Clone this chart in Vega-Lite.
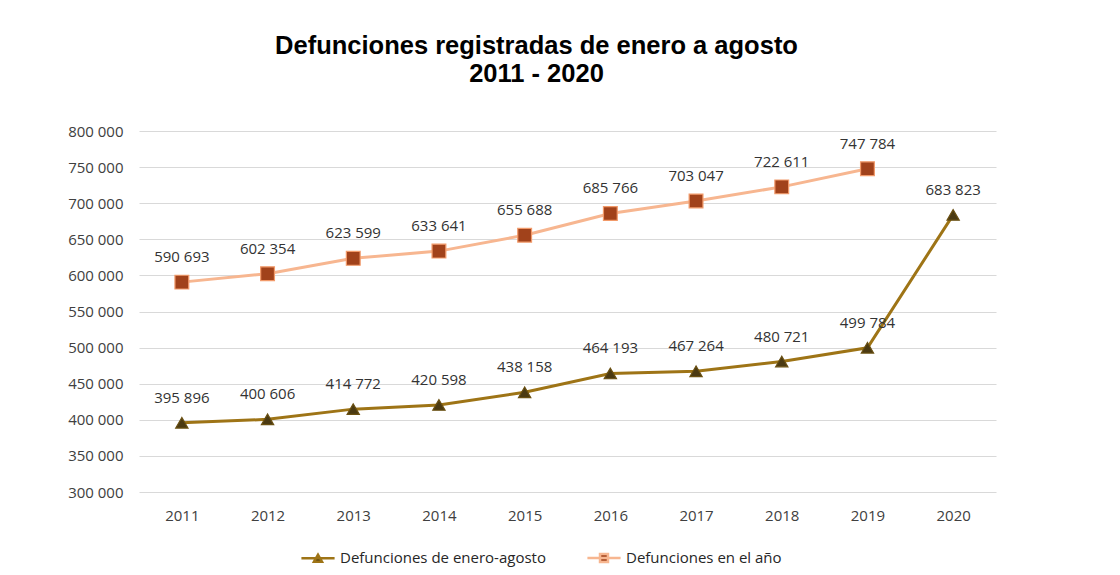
{
  "$schema": "https://vega.github.io/schema/vega-lite/v6.json",
  "autosize": {"type": "none"},
  "width": 857,
  "height": 361,
  "padding": {"left": 139, "top": 131, "right": 124, "bottom": 83},
  "background": "white",
  "config": {
    "locale": {"number": {"decimal": ",", "thousands": " ", "grouping": [3], "currency": ["$", ""]}},
    "view": {"stroke": null},
    "font": "Open Sans"
  },
  "title": {
    "text": ["Defunciones registradas de enero a agosto", "2011 - 2020"],
    "font": "Liberation Sans",
    "fontSize": 25.5,
    "fontWeight": "bold",
    "color": "#000000",
    "anchor": "middle",
    "dx": -31,
    "offset": 37,
    "lineHeight": 28
  },
  "data": {
    "values": [
      {"year": "2011", "serie": "Defunciones de enero-agosto", "value": 395896},
      {"year": "2012", "serie": "Defunciones de enero-agosto", "value": 400606},
      {"year": "2013", "serie": "Defunciones de enero-agosto", "value": 414772},
      {"year": "2014", "serie": "Defunciones de enero-agosto", "value": 420598},
      {"year": "2015", "serie": "Defunciones de enero-agosto", "value": 438158},
      {"year": "2016", "serie": "Defunciones de enero-agosto", "value": 464193},
      {"year": "2017", "serie": "Defunciones de enero-agosto", "value": 467264},
      {"year": "2018", "serie": "Defunciones de enero-agosto", "value": 480721},
      {"year": "2019", "serie": "Defunciones de enero-agosto", "value": 499784},
      {"year": "2020", "serie": "Defunciones de enero-agosto", "value": 683823},
      {"year": "2011", "serie": "Defunciones en el año", "value": 590693},
      {"year": "2012", "serie": "Defunciones en el año", "value": 602354},
      {"year": "2013", "serie": "Defunciones en el año", "value": 623599},
      {"year": "2014", "serie": "Defunciones en el año", "value": 633641},
      {"year": "2015", "serie": "Defunciones en el año", "value": 655688},
      {"year": "2016", "serie": "Defunciones en el año", "value": 685766},
      {"year": "2017", "serie": "Defunciones en el año", "value": 703047},
      {"year": "2018", "serie": "Defunciones en el año", "value": 722611},
      {"year": "2019", "serie": "Defunciones en el año", "value": 747784}
    ]
  },
  "encoding": {
    "x": {
      "field": "year", "type": "ordinal",
      "scale": {"type": "point", "padding": 0.5},
      "axis": {
        "title": null, "labelAngle": 0, "domain": false, "ticks": false,
        "labelFontSize": 15, "labelColor": "#404040", "labelPadding": 16, "labelFont": "Open Sans"
      }
    },
    "y": {
      "field": "value", "type": "quantitative",
      "scale": {"domain": [300000, 800000], "nice": false, "zero": false},
      "axis": {
        "title": null, "format": ",d", "values": [300000,350000,400000,450000,500000,550000,600000,650000,700000,750000,800000],
        "labelOverlap": false,
        "domain": false, "ticks": false, "gridColor": "#d9d9d9", "gridWidth": 1,
        "labelFontSize": 15, "labelColor": "#404040", "labelPadding": 16, "labelFont": "Open Sans"
      }
    }
  },
  "layer": [
    {
      "transform": [{"filter": "datum.serie == 'Defunciones en el año'"}],
      "mark": {"type": "line", "strokeWidth": 3, "color": "#F7B690"}
    },
    {
      "transform": [{"filter": "datum.serie == 'Defunciones de enero-agosto'"}],
      "mark": {"type": "line", "strokeWidth": 3, "color": "#9E7416"}
    },
    {
      "mark": {"type": "point", "filled": true, "opacity": 0, "size": 1100},
      "encoding": {
        "fill": {
          "field": "serie", "type": "nominal",
          "scale": {"domain": ["Defunciones de enero-agosto", "Defunciones en el año"], "range": ["#4B3A12", "#A1421B"]},
          "legend": {"title": null, "orient": "none", "direction": "horizontal", "legendX": 161, "legendY": 409, "labelFontSize": 15, "labelColor": "#262626", "labelFont": "Open Sans", "labelLimit": 400, "symbolSize": 1100, "symbolOpacity": 1, "symbolStrokeWidth": 2.5, "columnPadding": 36, "labelOffset": 4}
        },
        "stroke": {
          "field": "serie", "type": "nominal",
          "scale": {"domain": ["Defunciones de enero-agosto", "Defunciones en el año"], "range": ["#9E7416", "#F7B690"]},
          "legend": {"title": null, "orient": "none", "direction": "horizontal", "legendX": 161, "legendY": 409, "labelFontSize": 15, "labelColor": "#262626", "labelFont": "Open Sans", "labelLimit": 400, "symbolSize": 1100, "symbolOpacity": 1, "symbolStrokeWidth": 2.5, "columnPadding": 36, "labelOffset": 4}
        },
        "shape": {
          "field": "serie", "type": "nominal",
          "scale": {"domain": ["Defunciones de enero-agosto", "Defunciones en el año"], "range": ["M-1,0H1M-0.24,0.2L0,-0.22L0.24,0.2Z", "M-1,0H1M-0.24,-0.24H0.24V0.24H-0.24Z"]},
          "legend": {"title": null, "orient": "none", "direction": "horizontal", "legendX": 161, "legendY": 409, "labelFontSize": 15, "labelColor": "#262626", "labelFont": "Open Sans", "labelLimit": 400, "symbolSize": 1100, "symbolOpacity": 1, "symbolStrokeWidth": 2.5, "columnPadding": 36, "labelOffset": 4}
        }
      }
    },
    {
      "transform": [{"filter": "datum.serie == 'Defunciones de enero-agosto'"}],
      "mark": {"type": "point", "shape": "triangle-up", "filled": true, "opacity": 1, "size": 150, "fill": "#4B3A12", "stroke": "#6a5012", "strokeWidth": 1.2}
    },
    {
      "transform": [{"filter": "datum.serie == 'Defunciones en el año'"}],
      "mark": {"type": "point", "shape": "square", "filled": true, "opacity": 1, "size": 190, "fill": "#A1421B", "stroke": "#F29A6A", "strokeWidth": 1.2}
    },
    {
      "mark": {"type": "text", "baseline": "bottom", "dy": -17, "fontSize": 15, "color": "#333333", "font": "Open Sans"},
      "encoding": {
        "text": {"field": "value", "type": "quantitative", "format": ",d"}
      }
    }
  ]
}
